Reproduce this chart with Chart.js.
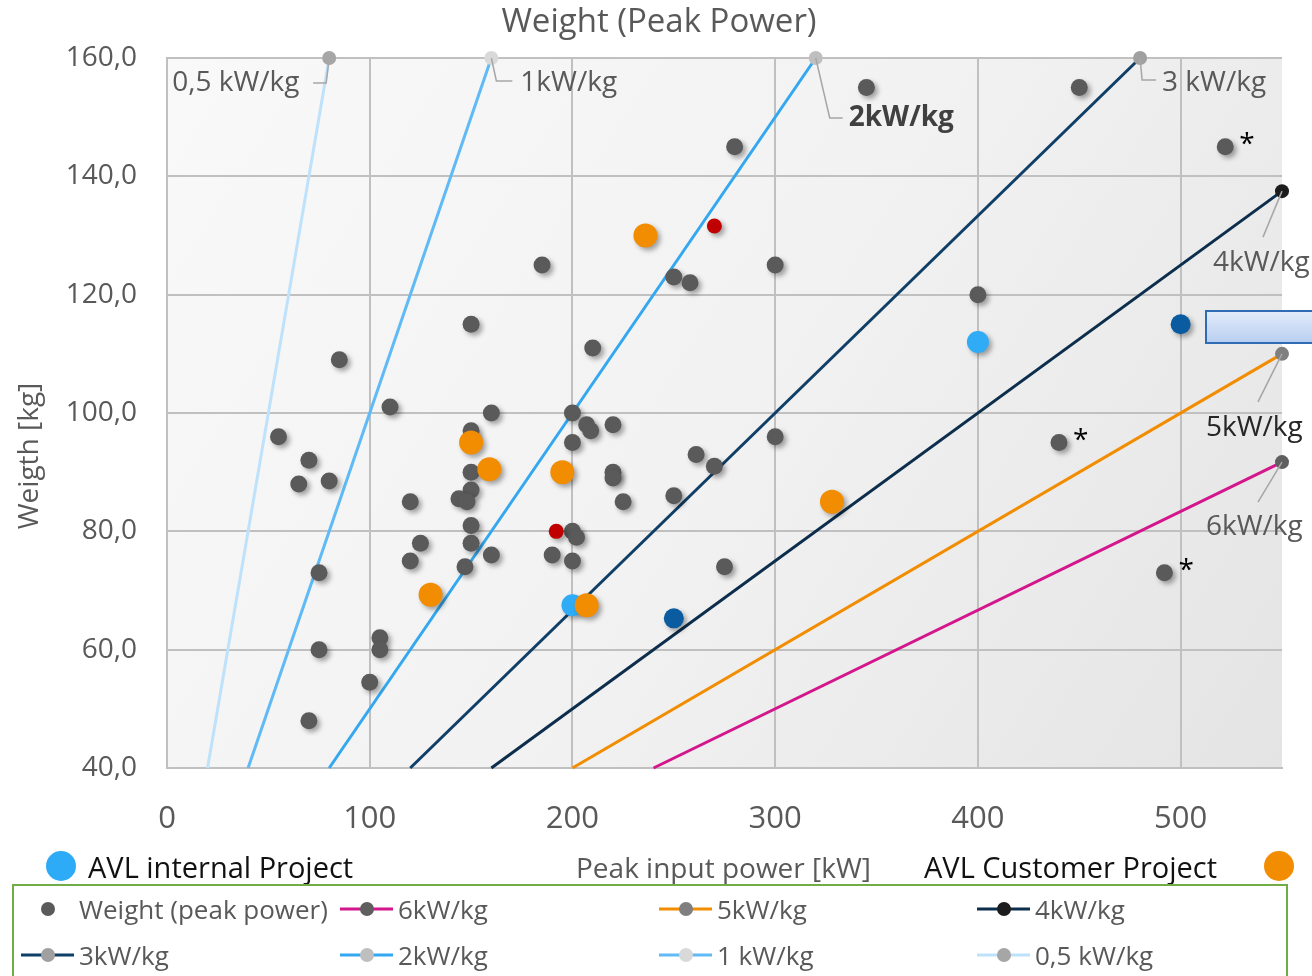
<!DOCTYPE html>
<html><head><meta charset="utf-8">
<script src="https://cdn.jsdelivr.net/npm/chart.js@4.4.0/dist/chart.umd.min.js"></script>
<style>
html,body{margin:0;padding:0;background:#fff;width:1312px;height:976px;overflow:hidden;font-family:"Open Sans",sans-serif;}
#c{position:absolute;left:0;top:0;}
.abs{position:absolute;white-space:nowrap;line-height:1;}
.dot{position:absolute;border-radius:50%;}
#legend{position:absolute;left:12px;top:884px;width:1276px;height:120px;border:2px solid #70ad47;box-sizing:border-box;}
.lt{position:absolute;font-size:26px;color:#595959;white-space:nowrap;transform:translateY(-50%);}
.ll{position:absolute;height:3px;transform:translateY(-50%);}
.ld{position:absolute;width:14px;height:14px;border-radius:50%;transform:translate(-50%,-50%);}
#rect{position:absolute;left:1205px;top:310px;width:130px;height:34px;box-sizing:border-box;border:2px solid #2f6cb3;background:linear-gradient(#e2ebfa,#b9cff1);}
</style></head><body>
<canvas id="c" width="1312" height="976"></canvas>
<div id="rect"></div>
<div class="dot" style="left:46px;top:851px;width:30px;height:30px;background:#2eabf6"></div>
<div class="abs" style="left:88px;top:852px;font-size:29px;color:#111">AVL internal Project</div>
<div class="abs" style="left:576px;top:853px;font-size:28px;color:#595959">Peak input power [kW]</div>
<div class="abs" style="left:924px;top:852px;font-size:29px;color:#111">AVL Customer Project</div>
<div class="dot" style="left:1264px;top:851px;width:30px;height:30px;background:#f28c00"></div>
<div id="legend"></div>
<script>
// ---- data ----
const xTicks = [0, 100, 200, 300, 400, 500];
const yTicks = [40, 60, 80, 100, 120, 140, 160];

const greyPower  = [345,450,280,522,185,250,258,300,400,150,210,85,110,55,70,65,80,120,125,120,75,75,105,105,100,70,160,150,150,150,144,148,150,150,147,160,200,207,209,220,200,220,220,225,200,202,190,200,261,270,250,275,300,440,492];
const greyWeight = [155,155,145,145,125,123,122,125,120,115,111,109,101,96,92,88,88.5,85,78,75,73,60,62,60,54.5,48,100,97,90,87,85.5,85,81,78,74,76,100,98,97,98,95,90,89,85,80,79,76,75,93,91,86,74,96,95,73];

const redPower = [192, 270];
const redWeight = [80, 131.6];
const internalPower = [200, 400];
const internalWeight = [67.5, 112];
const customerPower = [236, 150, 159, 195, 130, 207, 328];
const customerWeight = [130, 95, 90.5, 90, 69.3, 67.5, 85];
const navyPower = [250, 500];
const navyWeight = [65.3, 115];

const asteriskPower = [522, 440, 492];
const asteriskWeight = [145, 95, 73];

const lineLabels = ['6kW/kg','5kW/kg','4kW/kg','3kW/kg','2kW/kg','1 kW/kg','0,5 kW/kg'];
const lineStartPower  = [240, 200, 160, 120, 80, 40, 20];
const lineStartWeight = [40, 40, 40, 40, 40, 40, 40];
const lineEndPower    = [550, 550, 550, 480, 320, 160, 80];
const lineEndWeight   = [91.7, 110, 137.5, 160, 160, 160, 160];
const lineColors  = ['#d4168c','#f28c00','#0c2d4b','#0f3f66','#33a8f1','#5fbaf6','#bfe2fb'];
const markerColors= ['#5f5f5f','#7f7f7f','#1c1c1c','#a0a0a0','#bfbfbf','#d9d9d9','#a6a6a6'];
const chartLabelText = ['6kW/kg','5kW/kg','4kW/kg','3 kW/kg','2kW/kg','1kW/kg','0,5 kW/kg'];

const pts = (xs, ys) => xs.map((x, i) => ({x, y: ys[i]}));

// ---- datasets ----
const datasets = [
  {label:'AVL Customer Project', data: pts(customerPower, customerWeight), backgroundColor:'#f28c00', borderWidth:0, pointRadius:12, shadow:true},
  {label:'AVL internal Project', data: pts(internalPower, internalWeight), backgroundColor:'#30abf6', borderWidth:0, pointRadius:11, shadow:true},
  {label:'navy', data: pts(navyPower, navyWeight), backgroundColor:'#0b5ba1', borderWidth:0, pointRadius:10, shadow:true},
  {label:'red', data: pts(redPower, redWeight), backgroundColor:'#c00000', borderWidth:0, pointRadius:7.5, shadow:true},
  {label:'Weight (peak power)', data: pts(greyPower, greyWeight), backgroundColor:'#5a5a5a', borderWidth:0, pointRadius:8.5, shadow:true},
];
lineLabels.forEach((lab, i) => {
  datasets.push({
    label: lab,
    data: [{x: lineStartPower[i], y: lineStartWeight[i]}, {x: lineEndPower[i], y: lineEndWeight[i]}],
    showLine: true, borderColor: lineColors[i], borderWidth: 3, clip: false,
    pointRadius: [0, 7], pointBackgroundColor: markerColors[i], pointBorderWidth: 0
  });
});

// ---- plugins ----
const bgPlugin = {
  id: 'bg',
  beforeDraw(chart) {
    const {ctx, chartArea: a} = chart;
    const g = ctx.createLinearGradient(a.left, a.top, a.right, a.bottom);
    g.addColorStop(0, '#f9f9f9');
    g.addColorStop(0.5, '#f2f2f2');
    g.addColorStop(1, '#e4e4e4');
    ctx.save(); ctx.fillStyle = g; ctx.fillRect(a.left, a.top, a.right - a.left, a.bottom - a.top); ctx.restore();
    // chart title
    ctx.save();
    ctx.fillStyle = '#595959';
    ctx.font = '33px "Open Sans"';
    ctx.textAlign = 'center'; ctx.textBaseline = 'middle';
    ctx.fillText('Weight (Peak Power)', 659, 23);
    ctx.restore();
  }
};
const shadowPlugin = {
  id: 'shadow',
  beforeDatasetDraw(chart, args) {
    const ds = chart.data.datasets[args.index];
    chart.ctx.save();
    if (ds.shadow) {
      chart.ctx.shadowColor = 'rgba(0,0,0,0.35)';
      chart.ctx.shadowBlur = 5;
      chart.ctx.shadowOffsetX = 3;
      chart.ctx.shadowOffsetY = 3;
    }
  },
  afterDatasetDraw(chart) { chart.ctx.restore(); }
};
// leader/label geometry relative to the line end marker
const labelGeom = [
  {pts:[[0,0],[-24,40]], tx:-76, ty:65, color:'#595959', bold:false}, // 6
  {pts:[[0,0],[-24,48]], tx:-76, ty:74, color:'#262626', bold:false}, // 5
  {pts:[[0,0],[-19,46]], tx:-69, ty:72, color:'#595959', bold:false}, // 4
  {pts:[[0,0],[2,22],[16,22]], tx:22, ty:25, color:'#595959', bold:false}, // 3
  {pts:[[0,0],[14,60],[27,60]], tx:33, ty:60, color:'#404040', bold:true}, // 2
  {pts:[[0,0],[5,23],[21,23]], tx:29, ty:25, color:'#595959', bold:false}, // 1
  {pts:[[0,0],[-3,25],[-16,25]], tx:-157, ty:25, color:'#595959', bold:false}, // 0.5
];
const annoPlugin = {
  id: 'anno',
  afterDatasetsDraw(chart) {
    const {ctx, scales: {x, y}} = chart;
    ctx.save();
    ctx.textBaseline = 'middle';
    lineLabels.forEach((lab, i) => {
      const px = x.getPixelForValue(lineEndPower[i]);
      const py = y.getPixelForValue(lineEndWeight[i]);
      const g = labelGeom[i];
      ctx.strokeStyle = '#a6a6a6'; ctx.lineWidth = 1.5;
      ctx.beginPath();
      g.pts.forEach((p, k) => k ? ctx.lineTo(px + p[0], py + p[1]) : ctx.moveTo(px + p[0], py + p[1]));
      ctx.stroke();
      ctx.fillStyle = g.color;
      ctx.font = (g.bold ? 'bold ' : '') + '28px "Open Sans"';
      ctx.textAlign = 'left';
      ctx.fillText(chartLabelText[i], px + g.tx, py + g.ty);
    });
    ctx.fillStyle = '#000';
    ctx.font = '28px "Open Sans"';
    asteriskPower.forEach((p, i) => {
      ctx.fillText('*', x.getPixelForValue(p) + 14, y.getPixelForValue(asteriskWeight[i]) - 2);
    });
    // y axis title
    ctx.translate(30, 456);
    ctx.rotate(-Math.PI / 2);
    ctx.textAlign = 'center';
    ctx.fillStyle = '#595959';
    ctx.font = '28px "Open Sans"';
    ctx.fillText('Weigth [kg]', 0, 0);
    ctx.restore();
  }
};

new Chart(document.getElementById('c'), {
  type: 'scatter',
  data: {datasets},
  options: {
    responsive: false, devicePixelRatio: 1, animation: false,
    layout: {autoPadding: false, padding: {left: 0, right: 30, top: 58, bottom: 0}},
    plugins: {legend: {display: false}, tooltip: {enabled: false}, title: {display: false}},
    scales: {
      x: {
        type: 'linear', min: 0, max: 550,
        afterBuildTicks: s => { s.ticks = xTicks.map(v => ({value: v})); },
        afterFit: s => { s.height = 208; },
        grid: {color: '#c0c0c0', lineWidth: 2, drawTicks: false},
        border: {color: '#c0c0c0', width: 2},
        ticks: {color: '#595959', font: {family: 'Open Sans', size: 31}, padding: 33, maxRotation: 0}
      },
      y: {
        type: 'linear', min: 40, max: 160,
        afterBuildTicks: s => { s.ticks = yTicks.map(v => ({value: v})); },
        afterFit: s => { s.width = 167; },
        grid: {color: '#c0c0c0', lineWidth: 2, drawTicks: false},
        border: {color: '#c0c0c0', width: 2},
        ticks: {color: '#595959', font: {family: 'Open Sans', size: 28}, padding: 30, callback: v => v.toFixed(1).replace('.', ',')}
      }
    }
  },
  plugins: [bgPlugin, shadowPlugin, annoPlugin]
});

// ---- HTML legend ----
const legend = document.getElementById('legend');
const legendOrder = [
  {type:'dot', label:'Weight (peak power)', color:'#5a5a5a'},
  {line:0}, {line:1}, {line:2}, {line:3}, {line:4}, {line:5}, {line:6}
];
const colX = [34, 353, 672, 990];
const rowY = [23, 69];
legendOrder.forEach((item, k) => {
  const cx = colX[k % 4], cy = rowY[Math.floor(k / 4)];
  let label;
  if (item.type === 'dot') {
    const d = document.createElement('div'); d.className = 'ld';
    d.style.left = cx + 'px'; d.style.top = cy + 'px'; d.style.background = item.color;
    legend.appendChild(d);
    label = item.label;
  } else {
    const i = item.line;
    const l = document.createElement('div'); l.className = 'll';
    l.style.left = (cx - 27) + 'px'; l.style.width = '53px'; l.style.top = cy + 'px'; l.style.background = lineColors[i];
    legend.appendChild(l);
    const d = document.createElement('div'); d.className = 'ld';
    d.style.left = cx + 'px'; d.style.top = cy + 'px'; d.style.background = markerColors[i];
    legend.appendChild(d);
    label = lineLabels[i];
  }
  const t = document.createElement('div'); t.className = 'lt';
  t.style.left = (cx + 31) + 'px'; t.style.top = cy + 'px';
  t.textContent = label;
  legend.appendChild(t);
});
</script>
</body></html>
